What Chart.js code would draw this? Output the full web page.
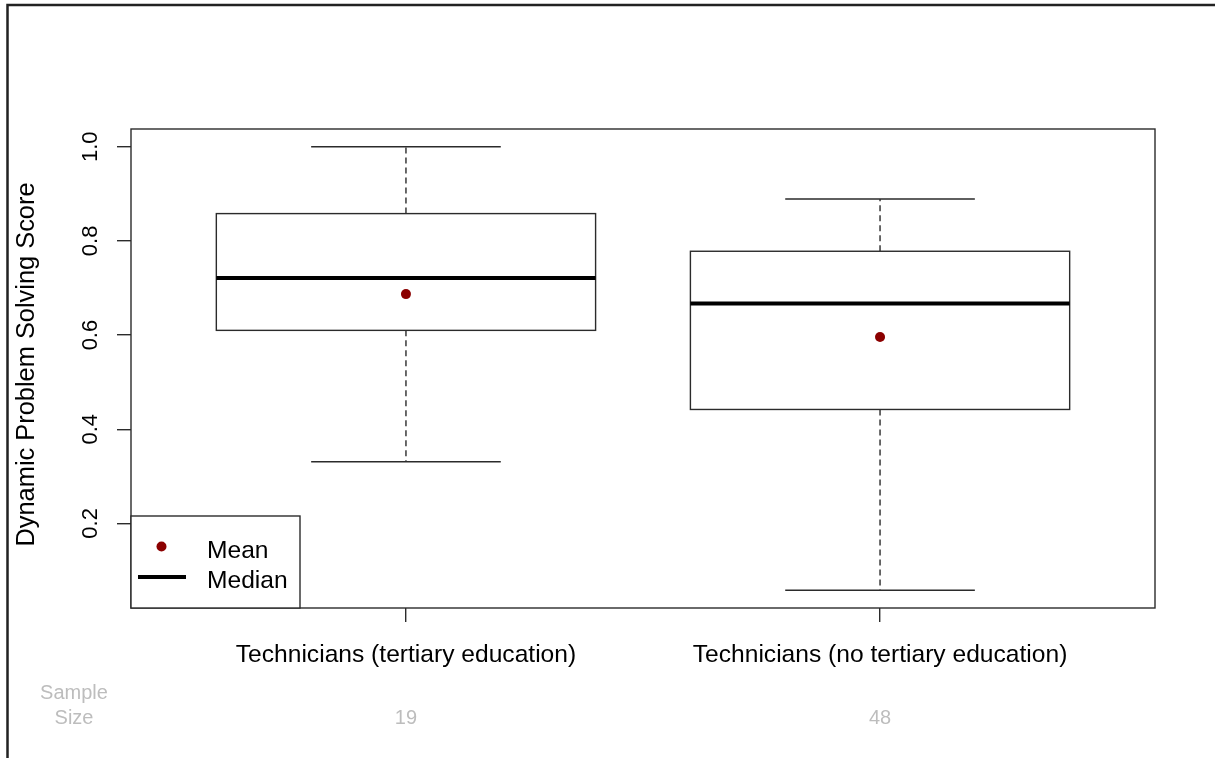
<!DOCTYPE html>
<html>
<head>
<meta charset="utf-8">
<script src="https://cdn.jsdelivr.net/npm/chart.js@4.4.1/dist/chart.umd.min.js"></script>
<style>
  html, body { margin: 0; padding: 0; background: #fff; }
  canvas { display: block; }
</style>
</head>
<body>
<canvas id="boxChart" width="1215" height="758"></canvas>
<script>
// values
const categories = ['Technicians (tertiary education)', 'Technicians (no tertiary education)'];
const whiskerLow = [0.331, 0.058];
const quartile1 = [0.610, 0.442];
const medians = [0.721, 0.667];
const quartile3 = [0.858, 0.778];
const whiskerHigh = [1.0, 0.889];
const means = [0.687, 0.596];
const sampleSizes = [19, 48];
const yTicks = [0.2, 0.4, 0.6, 0.8, 1.0];
const yTitle = 'Dynamic Problem Solving Score';

const FONT = '"Liberation Sans", Arial, sans-serif';
const LINE = '#2b2b2b';

// R style axis range: data range padded by 4%
const lo = Math.min(...whiskerLow);
const hi = Math.max(...whiskerHigh);
const pad = (hi - lo) * 0.04;

const boxPlugin = {
    id: 'boxPlugin',

    beforeDatasetsDraw(chart) {
        const ctx = chart.ctx;
        const xs = chart.scales.x;
        const ys = chart.scales.y;

        ctx.save();
        ctx.strokeStyle = LINE;
        ctx.lineWidth = 1.4;

        categories.forEach((cat, i) => {
            const pos = i + 1;
            const xc = xs.getPixelForValue(pos);
            const xl = xs.getPixelForValue(pos - 0.4);
            const xr = xs.getPixelForValue(pos + 0.4);
            const cl = xs.getPixelForValue(pos - 0.2);
            const cr = xs.getPixelForValue(pos + 0.2);

            const yLow = ys.getPixelForValue(whiskerLow[i]);
            const yQ1 = ys.getPixelForValue(quartile1[i]);
            const yMed = ys.getPixelForValue(medians[i]);
            const yQ3 = ys.getPixelForValue(quartile3[i]);
            const yHigh = ys.getPixelForValue(whiskerHigh[i]);

            // dashed whiskers
            ctx.setLineDash([6, 4]);
            ctx.beginPath();
            ctx.moveTo(xc, yQ1);
            ctx.lineTo(xc, yLow);
            ctx.moveTo(xc, yQ3);
            ctx.lineTo(xc, yHigh);
            ctx.stroke();
            ctx.setLineDash([]);

            // caps
            ctx.beginPath();
            ctx.moveTo(cl, yLow);
            ctx.lineTo(cr, yLow);
            ctx.moveTo(cl, yHigh);
            ctx.lineTo(cr, yHigh);
            ctx.stroke();

            // box
            ctx.fillStyle = '#fff';
            ctx.fillRect(xl, yQ3, xr - xl, yQ1 - yQ3);
            ctx.strokeRect(xl, yQ3, xr - xl, yQ1 - yQ3);

            // median
            ctx.save();
            ctx.strokeStyle = '#000';
            ctx.lineWidth = 4;
            ctx.beginPath();
            ctx.moveTo(xl, yMed);
            ctx.lineTo(xr, yMed);
            ctx.stroke();
            ctx.restore();
        });

        ctx.restore();
    },

    afterDraw(chart) {
        const ctx = chart.ctx;
        const xs = chart.scales.x;
        const ys = chart.scales.y;
        const area = chart.chartArea;

        ctx.save();

        // plot frame
        ctx.strokeStyle = LINE;
        ctx.lineWidth = 1.4;
        ctx.strokeRect(area.left, area.top, area.right - area.left, area.bottom - area.top);

        // y tick labels, rotated like R
        ctx.fillStyle = '#000';
        ctx.font = '22px ' + FONT;
        ctx.textAlign = 'center';
        ctx.textBaseline = 'alphabetic';
        yTicks.forEach(v => {
            const y = ys.getPixelForValue(v);
            ctx.save();
            ctx.translate(97, y);
            ctx.rotate(-Math.PI / 2);
            ctx.fillText(v.toFixed(1), 0, 0);
            ctx.restore();
        });

        // y title
        ctx.font = '25.4px ' + FONT;
        ctx.save();
        ctx.translate(34, (area.top + area.bottom) / 2 - 4);
        ctx.rotate(-Math.PI / 2);
        ctx.fillText(yTitle, 0, 0);
        ctx.restore();

        // category labels
        ctx.font = '24.6px ' + FONT;
        categories.forEach((cat, i) => {
            ctx.fillText(cat, xs.getPixelForValue(i + 1), 662);
        });

        // sample sizes
        ctx.fillStyle = '#bdbdbd';
        ctx.font = '20px ' + FONT;
        ctx.fillText('Sample', 74, 699);
        ctx.fillText('Size', 74, 724);
        sampleSizes.forEach((n, i) => {
            ctx.fillText(String(n), xs.getPixelForValue(i + 1), 724);
        });

        // legend box
        ctx.strokeStyle = LINE;
        ctx.lineWidth = 1.4;
        ctx.fillStyle = '#fff';
        ctx.fillRect(area.left, 516, 300 - area.left, area.bottom - 516);
        ctx.strokeRect(area.left, 516, 300 - area.left, area.bottom - 516);

        ctx.fillStyle = '#8b0000';
        ctx.beginPath();
        ctx.arc(161.5, 546.5, 5, 0, Math.PI * 2);
        ctx.fill();

        ctx.strokeStyle = '#000';
        ctx.lineWidth = 4;
        ctx.beginPath();
        ctx.moveTo(138, 577);
        ctx.lineTo(186, 577);
        ctx.stroke();

        ctx.fillStyle = '#000';
        ctx.font = '24.6px ' + FONT;
        ctx.textAlign = 'left';
        ctx.fillText('Mean', 207, 558);
        ctx.fillText('Median', 207, 588);

        // outer frame of the picture
        ctx.strokeStyle = '#222';
        ctx.lineWidth = 2.5;
        ctx.beginPath();
        ctx.moveTo(7.5, 758);
        ctx.lineTo(7.5, 5);
        ctx.lineTo(1215, 5);
        ctx.stroke();

        ctx.restore();
    }
};

new Chart(document.getElementById('boxChart').getContext('2d'), {
    type: 'scatter',
    data: {
        datasets: [{
            label: 'Mean',
            data: means.map((m, i) => ({ x: i + 1, y: m })),
            pointRadius: 5,
            pointHoverRadius: 5,
            backgroundColor: '#8b0000',
            borderColor: '#8b0000',
            borderWidth: 0
        }]
    },
    options: {
        responsive: false,
        animation: false,
        layout: {
            padding: { top: 129, right: 60, left: 0, bottom: 0 }
        },
        plugins: {
            legend: { display: false },
            tooltip: { enabled: false }
        },
        scales: {
            x: {
                type: 'linear',
                min: 0.42,
                max: 2.58,
                afterBuildTicks: scale => {
                    scale.ticks = categories.map((c, i) => ({ value: i + 1 }));
                },
                afterFit: scale => { scale.height = 150; },
                ticks: { display: false },
                border: { display: false },
                grid: {
                    drawOnChartArea: false,
                    drawTicks: true,
                    tickLength: 14,
                    color: LINE,
                    lineWidth: 1.4
                }
            },
            y: {
                type: 'linear',
                min: lo - pad,
                max: hi + pad,
                afterBuildTicks: scale => {
                    scale.ticks = yTicks.map(v => ({ value: v }));
                },
                afterFit: scale => { scale.width = 131; },
                ticks: { display: false },
                border: { display: false },
                grid: {
                    drawOnChartArea: false,
                    drawTicks: true,
                    tickLength: 14,
                    color: LINE,
                    lineWidth: 1.4
                }
            }
        }
    },
    plugins: [boxPlugin]
});
</script>
</body>
</html>
